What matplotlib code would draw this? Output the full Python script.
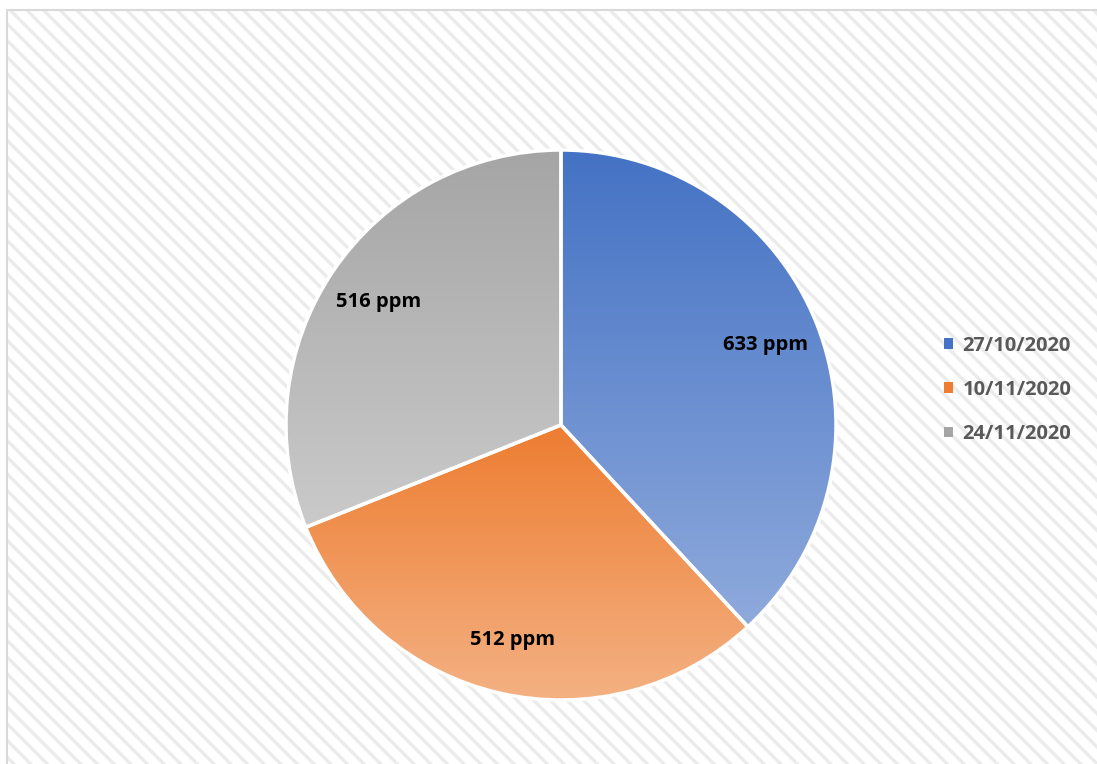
import matplotlib
matplotlib.use("Agg")
import matplotlib.pyplot as plt
import numpy as np
from matplotlib.patches import Rectangle, Patch
from matplotlib.colors import LinearSegmentedColormap

# datos
fechas = ["27/10/2020", "10/11/2020", "24/11/2020"]
valores = [633, 512, 516]
etiquetas = ["633 ppm", "512 ppm", "516 ppm"]
color_arriba = ["#4472C4", "#ED7D31", "#A5A5A5"]
color_abajo = ["#8FAADC", "#F4B183", "#CACACA"]

plt.rcParams["hatch.linewidth"] = 2.4
plt.rcParams["font.family"] = ["Open Sans", "DejaVu Sans"]

W, H = 1097, 764
fig = plt.figure(figsize=(W / 100, H / 100), dpi=100)
fig.patch.set_facecolor("white")

# fondo rayado (en un eje que cubre toda la figura)
bg = fig.add_axes([0, 0, 1, 1], zorder=-1)
bg.set_xlim(0, W)
bg.set_ylim(H, 0)
bg.axis("off")
bg.add_patch(Rectangle((7, 10), W, H, facecolor="white", edgecolor="#EBEBEB",
                       hatch="\\\\", linewidth=0))
bg.plot([7, 7, W], [H, 10, 10], color="#D9D9D9", lw=1.5)

# tarta
cx, cy, r = 561, 764 - 425, 275
ax = fig.add_axes([(cx - r) / W, (cy - r) / H, 2 * r / W, 2 * r / H])
ax.set_facecolor("none")
wedges, textos = ax.pie(valores, labels=etiquetas, startangle=90, counterclock=False,
                        labeldistance=0.8, colors=color_arriba,
                        wedgeprops=dict(edgecolor="white", linewidth=2.5))
for t in textos:
    t.set_horizontalalignment("center")
    t.set_verticalalignment("center")
    t.set_fontsize(14.5)
    t.set_fontweight("bold")
    t.set_color("black")
    t.set_zorder(5)

# degradado en cada porcion
for i, w in enumerate(wedges):
    ext = w.get_path().transformed(w.get_patch_transform()).get_extents()
    cmap = LinearSegmentedColormap.from_list("g%d" % i, [color_abajo[i], color_arriba[i]])
    grad = np.linspace(0, 1, 256).reshape(-1, 1)
    im = ax.imshow(grad, cmap=cmap, extent=[ext.x0, ext.x1, ext.y0, ext.y1],
                   origin="lower", aspect="auto", zorder=1)
    im.set_clip_path(w)
    w.set_facecolor("none")
    w.set_zorder(2)

ax.set_xlim(-1, 1)
ax.set_ylim(-1, 1)
ax.axis("off")

# leyenda
handles = [Patch(facecolor=c, edgecolor="none") for c in color_arriba]
fig.legend(handles, fechas, loc="center left", bbox_to_anchor=(926 / W, 1 - 390 / H),
           frameon=False, prop=dict(size=14.5, weight="bold"), labelcolor="#595959",
           handlelength=0.45, handleheight=0.45, handletextpad=0.45, labelspacing=1.2)

fig.savefig("out.png", dpi=100)
